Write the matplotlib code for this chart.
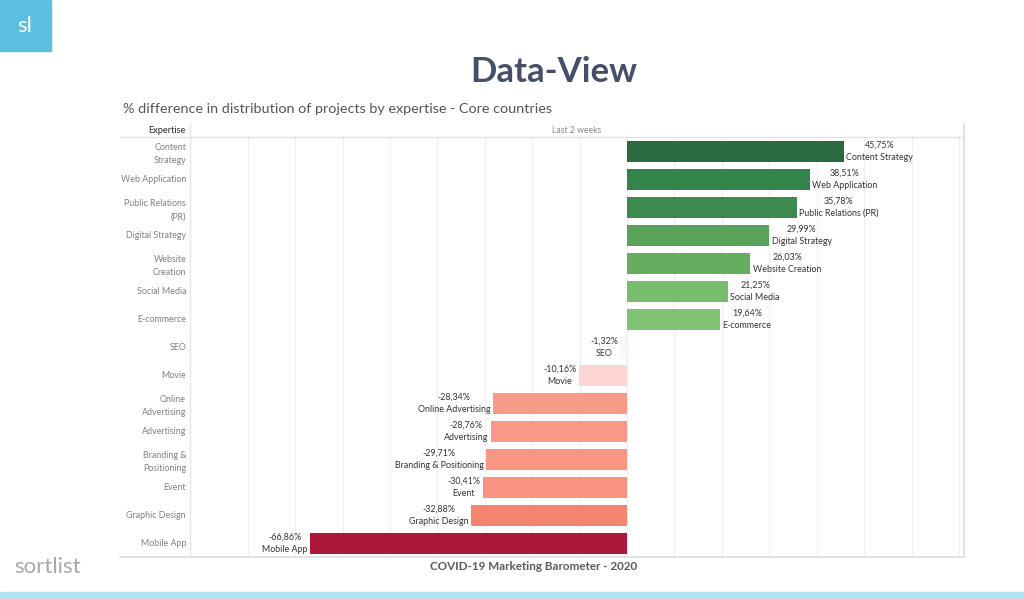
import matplotlib.pyplot as plt
from matplotlib.patches import Rectangle
from matplotlib.lines import Line2D

plt.rcParams['font.family'] = ['Lato', 'DejaVu Sans']

# data
expertise = ["Content Strategy", "Web Application", "Public Relations (PR)", "Digital Strategy",
             "Website Creation", "Social Media", "E-commerce", "SEO", "Movie",
             "Online Advertising", "Advertising", "Branding & Positioning", "Event",
             "Graphic Design", "Mobile App"]
row_labels = ["Content\nStrategy", "Web Application", "Public Relations\n(PR)", "Digital Strategy",
              "Website\nCreation", "Social Media", "E-commerce", "SEO", "Movie",
              "Online\nAdvertising", "Advertising", "Branding &\nPositioning", "Event",
              "Graphic Design", "Mobile App"]
pct_diff = [45.75, 38.51, 35.78, 29.99, 26.03, 21.25, 19.64, -1.32, -10.16,
            -28.34, -28.76, -29.71, -30.41, -32.88, -66.86]
bar_colors = ["#2b6a3e", "#33844a", "#3d8a4f", "#58a259", "#67ad60", "#77bd6b", "#80c473",
              "#fdf4f4", "#fdd5d5", "#f89a88", "#f89886", "#f89684", "#f79380", "#f5846f", "#ab1839"]

W, H = 1024, 599
fig = plt.figure(figsize=(W / 100, H / 100), dpi=100)

# plot area in pixel coords
left, right, top, bottom = 200, 964, 137, 557
ax = fig.add_axes([left / W, 1 - bottom / H, (right - left) / W, (bottom - top) / H])

y = list(range(len(expertise)))
ax.barh(y, pct_diff, height=0.75, color=bar_colors)
ax.set_xlim(-90.05, 71.05)
ax.set_ylim(len(expertise) - 0.5, -0.5)
ax.set_xticks(range(-80, 80, 10))
ax.set_xticklabels([])
ax.tick_params(axis='x', length=0)
ax.set_yticks(y)
ax.set_yticklabels(row_labels, fontsize=6.4, color="#808080", linespacing=1.6)
ax.tick_params(axis='y', length=0, pad=10)
ax.grid(axis='x', color="#eeeeee", linewidth=0.8)
ax.set_axisbelow(True)
for s in ax.spines.values():
    s.set_visible(False)

for i, (v, name) in enumerate(zip(pct_diff, expertise)):
    txt = f"{v:.2f}%".replace(".", ",") + "\n" + name
    if v >= 0:
        ax.text(v + 0.5, i, txt, ha='left', va='center', multialignment='center',
                fontsize=6.4, color="#333333", linespacing=1.45)
    else:
        ax.text(v - 0.5, i, txt, ha='right', va='center', multialignment='center',
                fontsize=6.4, color="#333333", linespacing=1.45)

# table frame lines
def hline(yp, x0, x1, c="#e2e2e2", lw=1.0):
    fig.add_artist(Line2D([x0 / W, x1 / W], [1 - yp / H, 1 - yp / H], color=c, linewidth=lw))

def vline(xp, y0, y1, c="#e2e2e2", lw=1.0):
    fig.add_artist(Line2D([xp / W, xp / W], [1 - y0 / H, 1 - y1 / H], color=c, linewidth=lw))

hline(137, 120, 964)
hline(557, 120, 964, c="#dddddd", lw=1.2)
vline(190, 124, 557, c="#e6e6e6")
vline(964, 124, 557, c="#dddddd", lw=1.2)

fig.text(186 / W, 1 - 130.5 / H, "Expertise", ha='right', va='center', fontsize=6.6,
         color="#333333", fontweight='medium')
fig.text(577 / W, 1 - 130.5 / H, "Last 2 weeks", ha='center', va='center', fontsize=6.2, color="#888888")

# titles
fig.text(554 / W, 1 - 72 / H, "Data-View", ha='center', va='center', fontsize=25,
         fontweight='bold', color="#454f68")
fig.text(123 / W, 1 - 109 / H, "% difference in distribution of projects by expertise - Core countries",
         ha='left', va='center', fontsize=10.4, color="#555555")
fig.text(534 / W, 1 - 566 / H, "COVID-19 Marketing Barometer - 2020", ha='center', va='center',
         fontsize=8.4, fontweight='bold', color="#5a5a5a")

# logo box and brand
fig.add_artist(Rectangle((0, 1 - 51 / H), 51 / W, 51 / H, color="#5bc0e0", transform=fig.transFigure))
fig.text(25 / W, 1 - 26 / H, "sl", ha='center', va='center', fontsize=16, color="white")
fig.text(14 / W, 1 - 567 / H, "sortlist", ha='left', va='center', fontsize=16,
         color="#a8a8a8")
fig.add_artist(Rectangle((0, 0), 1, 7 / H, color="#b3e3f2", transform=fig.transFigure))

fig.savefig("out.png", dpi=100)
